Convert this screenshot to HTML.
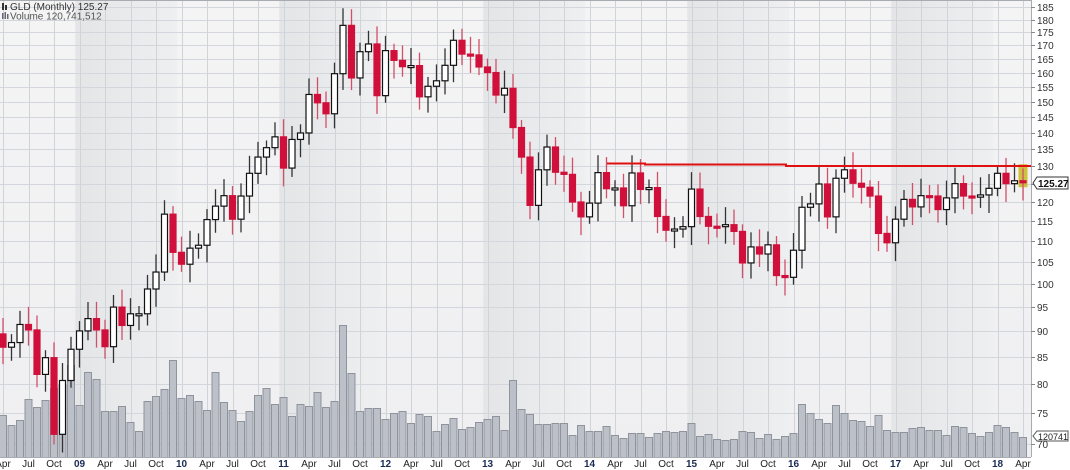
<!DOCTYPE html>
<html><head><meta charset="utf-8"><style>
html,body{margin:0;padding:0;background:#fff;}
svg{display:block;font-family:"Liberation Sans",sans-serif;}
</style></head><body>
<svg id="c" width="1070" height="470" xmlns="http://www.w3.org/2000/svg">
<rect x="0" y="0" width="1070" height="470" fill="#fff"/>
<defs>
<linearGradient id="g1" x1="0" x2="1" y1="0" y2="0"><stop offset="0" stop-color="#e4e5e7"/><stop offset="1" stop-color="#eeeff0"/></linearGradient>
<linearGradient id="g0" x1="0" x2="0" y1="0" y2="1"><stop offset="0" stop-color="#f4f4f5"/><stop offset="1" stop-color="#efeff1"/></linearGradient>
</defs>
<rect x="0" y="0" width="1031" height="457" fill="url(#g0)"/>
<g id="bands"></g><g id="grid"></g><g id="vol"></g><g id="cand"></g><g id="ov"></g>
<line x1="0" y1="0.5" x2="1031" y2="0.5" stroke="#a8abb0"/>
<line x1="1031.5" y1="0" x2="1031.5" y2="457" stroke="#a8abb0"/>
<line x1="0" y1="457.5" x2="1031" y2="457.5" stroke="#a8abb0"/>
<g id="lab"></g>
<text x="10" y="10" font-size="10" fill="#333">GLD (Monthly) 125.27</text>
<text x="10" y="19.5" font-size="10" fill="#555">Volume 120,741,512</text>
<rect x="2" y="3" width="2" height="7" fill="#333"/><rect x="5" y="5" width="2" height="5" fill="#333"/>
<rect x="2" y="13" width="1.5" height="6" fill="#667"/><rect x="4.5" y="12" width="1.5" height="7" fill="#667"/><rect x="7" y="14" width="1.5" height="5" fill="#667"/>
</svg>
<script>
var NS="http://www.w3.org/2000/svg";
function el(p,t,a,txt){var e=document.createElementNS(NS,t);for(var k in a)e.setAttribute(k,a[k]);if(txt!=null)e.textContent=txt;document.getElementById(p).appendChild(e);return e;}
function Y(p){return 166+449.9*(4.8675-Math.log(p));}
function X(i){return 3+8.5*i;}
[2009,2011,2013,2015,2017].forEach(function(y){var x0=X(9+(y-2009)*12)-4.25;el("bands","rect",{x:x0,y:0,width:102,height:457,fill:"url(#g1)"});});
for(var p=70;p<=185;p+=5){var y=Math.round(Y(p))+0.5;el("grid","line",{x1:0,x2:1031,y1:y,y2:y,stroke:"#d3d6dc","stroke-width":1});
el("lab","line",{x1:1031,x2:1035,y1:y,y2:y,stroke:"#888"});
el("lab","text",{x:1037,y:y+3.5,"font-size":"10",fill:"#333"},String(p));}
var mn=["Jan","Feb","Mar","Apr","May","Jun","Jul","Aug","Sep","Oct","Nov","Dec"];
for(var i=0;i<=120;i++){var m=(i+3)%12;if(m%3!==0)continue;var x=Math.round(X(i))+0.5;
el("grid","line",{x1:x,x2:x,y1:0,y2:457,stroke:"#cfd3da"});
var yr=2008+Math.floor((i+3)/12);
if(m===0)el("lab","text",{x:X(i),y:467,"font-size":"10","font-weight":"bold",fill:"#1a2a55","text-anchor":"middle"},String(yr%100).padStart(2,"0"));
else el("lab","text",{x:X(i),y:467,"font-size":"10",fill:"#222","text-anchor":"middle"},mn[m]);}
var C=[89.5,86.9,87.8,91.4,90.3,81.8,84.9,71.6,80.7,86.5,90.1,92.6,90.3,87.0,95.0,91.2,93.6,93.6,98.9,102.7,116.8,107.3,104.5,108.3,109.0,115.4,118.9,121.7,115.5,121.6,127.9,132.6,135.4,138.7,129.4,137.9,139.9,152.4,149.6,146.0,159.6,177.7,158.1,167.6,170.5,152.0,168.0,164.4,162.1,162.5,151.6,155.2,157.1,162.6,171.9,166.7,166.4,162.0,160.0,152.2,154.5,141.6,132.6,119.1,128.9,135.6,128.2,127.6,120.0,116.1,119.7,128.1,123.6,123.8,119.0,128.0,123.4,123.9,116.2,112.7,113.0,113.6,123.5,116.2,113.7,113.6,114.1,112.4,104.8,108.6,106.9,109.1,101.9,101.5,107.8,118.6,119.5,124.9,116.1,126.5,128.9,125.1,124.0,121.6,111.9,109.6,115.5,120.7,118.7,121.7,121.6,118.0,121.1,125.0,121.6,121.3,121.9,123.7,127.9,125.0,125.8,125.27];
var V=[415,425,420,399,407,400,388,385,365,405,372,379,411,411,406,422,431,401,396,389,360,398,395,401,410,372,402,410,421,411,395,388,404,397,416,404,406,392,407,401,325,373,411,408,408,419,413,411,423,414,416,431,424,418,429,427,422,419,416,430,380,409,414,424,424,423,423,435,425,431,431,426,435,438,433,433,437,433,431,432,431,423,436,434,439,440,439,431,432,438,434,439,436,433,404,413,419,423,405,413,420,421,426,415,430,432,432,428,427,430,430,435,426,427,433,436,432,425,427,432,437];
el("vol","rect",{x:X(120)-4.5,y:Y(130.5),width:9,height:Y(124)-Y(130.5),fill:"#c8b820",opacity:"0.85"});
for(var i=0;i<=120;i++){var v=V[i]||430;el("vol","rect",{x:X(i)-3.5,y:v+0.5,width:7,height:457-v,fill:"#bcc0c8",stroke:"#8e939c","stroke-width":1});}
for(var i=0;i<=120;i++){
 var o=C[i],c=C[i+1],hi=Math.max(o,c),lo=Math.min(o,c),f=0.015+0.025*Math.abs(Math.sin(i*2.3+1));
 var g=0.015+0.025*Math.abs(Math.cos(i*1.7+0.5));var h=hi*(1+f),l=lo*(1-g);
 var up=c>=o;var x=X(i);
 el("cand","line",{x1:x,x2:x,y1:Y(h),y2:Y(l),stroke:up?"#333":"#d0506a","stroke-width":1.3});
 var y1=Y(hi),y2=Y(lo);if(y2-y1<2){y2=y1+2;}
 el("cand","rect",{x:x-3,y:y1,width:6,height:y2-y1,fill:up?"#fff":"#d0103a",stroke:up?"#111":"#d0103a","stroke-width":1.2});
}
el("ov","polyline",{points:"607,163.5 645,163.5 645,164.5 786,164.5 786,166 1031,166",fill:"none",stroke:"#e01010","stroke-width":2});
el("lab","path",{d:"M1033,183 L1037,177 L1068,177 L1068,189 L1037,189 Z",fill:"#fff",stroke:"#333"});
el("lab","text",{x:1038,y:187,"font-size":"10","font-weight":"bold",fill:"#111"},"125.27");
el("lab","path",{d:"M1033,436 L1037,431 L1068,431 L1068,441 L1037,441 Z",fill:"#fff",stroke:"#555"});
el("lab","text",{x:1038,y:440,"font-size":"9",fill:"#222"},"120741");
</script>
</body></html>
